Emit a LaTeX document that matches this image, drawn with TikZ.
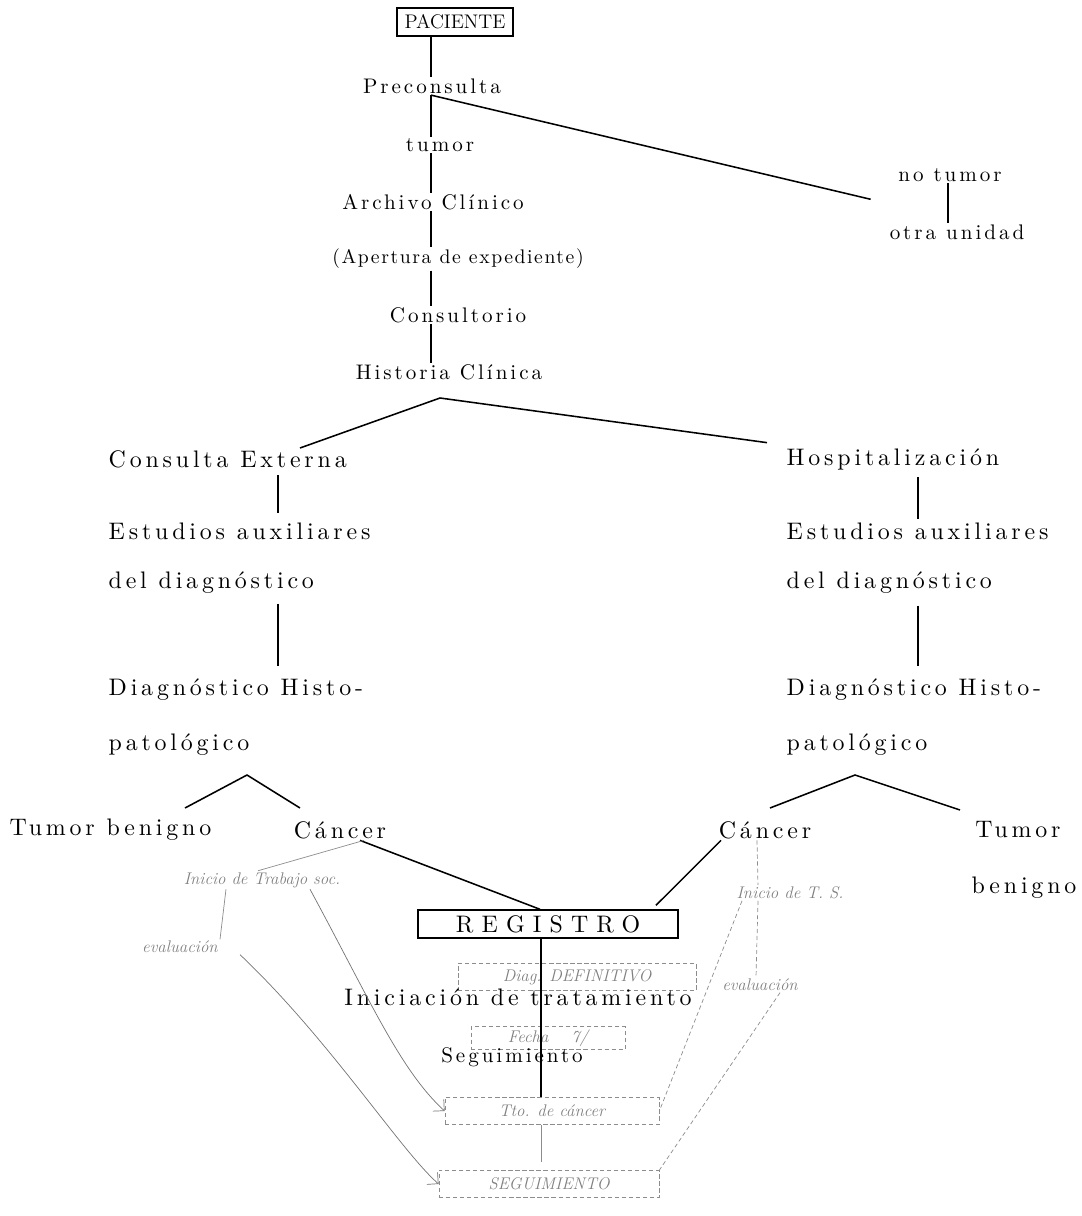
\documentclass[tikz,border=0pt]{standalone}
\usepackage{fontspec}
\usetikzlibrary{arrows.meta,calc}
\newfontfamily\typfont{lmroman10-regular.otf}[LetterSpace=14]
\newfontfamily\lowfont{lmroman10-regular.otf}[LetterSpace=16]
\newfontfamily\regfont{lmroman10-regular.otf}[LetterSpace=34]
\newfontfamily\tightfont{lmroman10-regular.otf}[LetterSpace=8]
\newcommand\typ{\typfont\fontsize{15}{18}\selectfont}
\newcommand\lowtyp{\lowfont\fontsize{17}{20}\selectfont}
\newcommand\hand{\itshape\fontsize{12}{14}\selectfont}
\begin{document}
\begin{tikzpicture}[
    x=0.025cm, y=-0.025cm,
    every node/.style={font=\typ, inner sep=1pt},
    low/.style={font=\lowtyp},
    box/.style={draw, line width=1pt, minimum height=0.7cm},
    link/.style={line width=1.1pt},
    hand/.style={font=\hand, text=black!50},
    faint/.style={draw=black!45, densely dashed, line width=0.5pt},
    faintbox/.style={draw=black!45, densely dashed, line width=0.5pt, minimum height=0.68cm, font=\hand, text=black!50},
    arrow/.style={-{Straight Barb[length=2mm]}, draw=black!55, line width=0.5pt}
]
\useasboundingbox (0,0) rectangle (1081,1216);

% tronco superior
\node[box, minimum width=2.9cm, font=\fontsize{14}{17}\selectfont] (pac) at (455,22) {PACIENTE};
\node (precon) at (432,86) {Preconsulta};
\node (tumor) at (440,145) {tumor};
\node (archivo) at (433,202) {Archivo Clínico};
\node[font=\tightfont\fontsize{14}{17}\selectfont] (apertura) at (458,259) {(Apertura de expediente)};
\node (consult) at (458,315) {Consultorio};
\node (historia) at (449,372) {Historia Clínica};
\node (notumor) at (950,175) {no tumor};
\node (otra) at (957,232) {otra unidad};
\coordinate (spine) at (431,0);
\coordinate (j1) at (440,398);

% rama izquierda
\node[low, anchor=west] (cext) at (107,459) {Consulta Externa};
\node[low, anchor=west] (estaux1) at (107,531) {Estudios auxiliares};
\node[low, anchor=west] (deldiag1) at (107,583) {del diagnóstico};
\node[low, anchor=west] (diaghist1) at (107,690) {Diagnóstico Histo-};
\node[low, anchor=west] (patol1) at (107,745) {patológico};
\node[low, anchor=west] (tbenig1) at (8,830) {Tumor benigno};
\node[low] (cancer1) at (340,830) {Cáncer};
\coordinate (j2) at (247,775);

% rama derecha
\node[low, anchor=west] (hosp) at (785,459) {Hospitalización};
\node[low, anchor=west] (estaux2) at (785,531) {Estudios auxiliares};
\node[low, anchor=west] (deldiag2) at (785,583) {del diagnóstico};
\node[low, anchor=west] (diaghist2) at (785,690) {Diagnóstico Histo-};
\node[low, anchor=west] (patol2) at (785,745) {patológico};
\node[low] (cancer2) at (765,830) {Cáncer};
\node[low] (tumor2) at (1018,830) {Tumor};
\node[low] (benigno2) at (1024,888) {benigno};
\coordinate (j3) at (855,775);

% registro
\node[box, minimum width=6.5cm, font=\regfont\fontsize{17}{20}\selectfont] (registro) at (548,924) {REGISTRO};
\node[faintbox, minimum width=5.95cm] (defin) at (577,977) {Diag. DEFINITIVO};
\node[low] (inicio) at (518,997) {Iniciación de tratamiento};
\node[faintbox, minimum width=3.85cm, minimum height=0.58cm] (fecha) at (548,1038) {Fecha \quad 7/};
\node (seguim) at (512,1057) {Seguimiento};
\node[faintbox, minimum width=5.35cm] (tto) at (552,1111) {Tto. de cáncer};
\node[faintbox, minimum width=5.5cm] (segbox) at (549,1184) {SEGUIMIENTO};

% anotaciones a mano
\node[hand] (tsocial) at (262,880) {Inicio de Trabajo soc.};
\node[hand] (evalua) at (180,947) {evaluación};
\node[hand] (tsocial2) at (790,893) {Inicio de T. S.};
\node[hand] (evalua2) at (760,985) {evaluación};

% conectores
\draw[link] (pac.south -| spine) -- (precon.north -| spine);
\draw[link] (precon.south -| spine) -- (tumor.north -| spine);
\draw[link] (precon.south -| spine) -- ([xshift=-0.65cm, yshift=-0.4cm]notumor.south west);
\draw[link] (notumor.south -| 948,0) -- (otra.north -| 948,0);
\draw[link] (tumor.south -| spine) -- (archivo.north -| spine);
\draw[link] (archivo.south -| spine) -- (apertura.north -| spine);
\draw[link] (apertura.south -| spine) -- (consult.north -| spine);
\draw[link] (consult.south -| spine) -- (historia.north -| spine);
\draw[link] (300,448) -- (j1) -- ([xshift=-0.45cm, yshift=0.1cm]hosp.north west);
\draw[link] ([yshift=-0.15cm]cext.south -| 278,0) -- ([yshift=0.2cm]estaux1.north -| 278,0);
\draw[link] ([yshift=-0.2cm]deldiag1.south -| 278,0) -- ([yshift=0.3cm]diaghist1.north -| 278,0);
\draw[link] (185,808) -- (j2) -- (300,808);
\draw[link] ([yshift=-0.15cm]hosp.south -| 918,0) -- ([yshift=0.05cm]estaux2.north -| 918,0);
\draw[link] ([yshift=-0.25cm]deldiag2.south -| 918,0) -- ([yshift=0.3cm]diaghist2.north -| 918,0);
\draw[link] (770,808) -- (j3) -- (960,810);
\draw[link] ([xshift=0.5cm]cancer1.south) -- ([xshift=-0.2cm]registro.north);
\draw[link] ([xshift=-1.1cm]cancer2.south) -- ([xshift=2.7cm, yshift=0.1cm]registro.north);
\draw[link] (registro.south -| 541,0) -- (tto.north -| 541,0);
\draw[faint, solid] (tto.south -| 541,0) -- ([yshift=0.2cm]segbox.north -| 541,0);

% conectores a mano
\draw[faint, solid] ([xshift=0.6cm]cancer1.south) -- ([xshift=-0.1cm]tsocial.north);
\draw[faint, solid] ([xshift=-0.9cm]tsocial.south) -- ([xshift=1cm]evalua.north);
\draw[arrow] ([xshift=1.2cm]tsocial.south) .. controls (370,1000) and (400,1070) .. (tto.west);
\draw[arrow] ([xshift=1.5cm]evalua.south) .. controls (330,1040) and (400,1150) .. (segbox.west);
\draw[faint] ([xshift=-0.2cm]cancer2.south) -- ([xshift=-0.8cm]tsocial2.north);
\draw[faint] ([xshift=-0.8cm]tsocial2.south) -- ([xshift=-0.1cm]evalua2.north);
\draw[faint] ([xshift=-1.2cm]tsocial2.south) -- (tto.east);
\draw[faint] ([xshift=0.5cm]evalua2.south) -- (segbox.north east);
\end{tikzpicture}
\end{document}
